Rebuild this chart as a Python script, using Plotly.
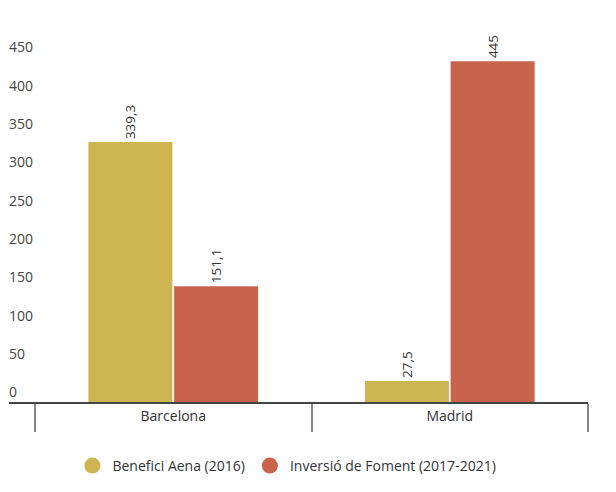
import plotly.graph_objects as go

categories = ["Barcelona", "Madrid"]
benefici_aena = [339.3, 27.5]
inversio_foment = [151.1, 445]
series_names = ["Benefici Aena (2016)", "Inversió de Foment (2017-2021)"]
y_ticks = [0, 50, 100, 150, 200, 250, 300, 350, 400, 450]

colors = ["#CDB552", "#C9644C"]
FONT = "Open Sans"
TXT = "#333333"

def fmt(v):
    s = ("%g" % v)
    return s.replace(".", ",")

fig = go.Figure()
for vals, name, col in [(benefici_aena, series_names[0], colors[0]),
                        (inversio_foment, series_names[1], colors[1])]:
    fig.add_trace(go.Bar(
        x=categories, y=vals, name=name, marker_color=col,
        marker_line_width=0,
        text=[fmt(v) for v in vals], textposition="outside", textangle=-90,
        textfont=dict(family=FONT, size=13.5, color=TXT),
        cliponaxis=False, showlegend=False,
    ))
    fig.add_trace(go.Scatter(
        x=[None], y=[None], mode="markers", name=name,
        marker=dict(symbol="circle", size=18, color=col),
    ))

fig.update_layout(
    width=616, height=492,
    margin=dict(l=1, r=36, t=11, b=98),
    paper_bgcolor="white", plot_bgcolor="white",
    font=dict(family=FONT, size=14, color=TXT),
    barmode="group", bargap=0.38, bargroupgap=0.02,
    legend=dict(orientation="h", x=0.48, xanchor="center", y=-0.167, yanchor="middle",
                font=dict(family=FONT, size=14, color=TXT), itemsizing="trace"),
    xaxis=dict(
        range=[-0.594, 1.5], showgrid=False, zeroline=False,
        showline=True, linecolor="#444444", linewidth=2,
        ticks="outside", tickson="boundaries", ticklen=28, tickcolor="#888888", tickwidth=1.5,
    ),
    yaxis=dict(
        range=[0, 500], showgrid=False, zeroline=False, showline=False,
        tickmode="array", tickvals=y_ticks, ticktext=[str(t) for t in y_ticks],
        ticklabelposition="inside top", tickfont=dict(size=14),
        ticklabelstandoff=-3,
    ),
)

fig.write_html("out.html")
